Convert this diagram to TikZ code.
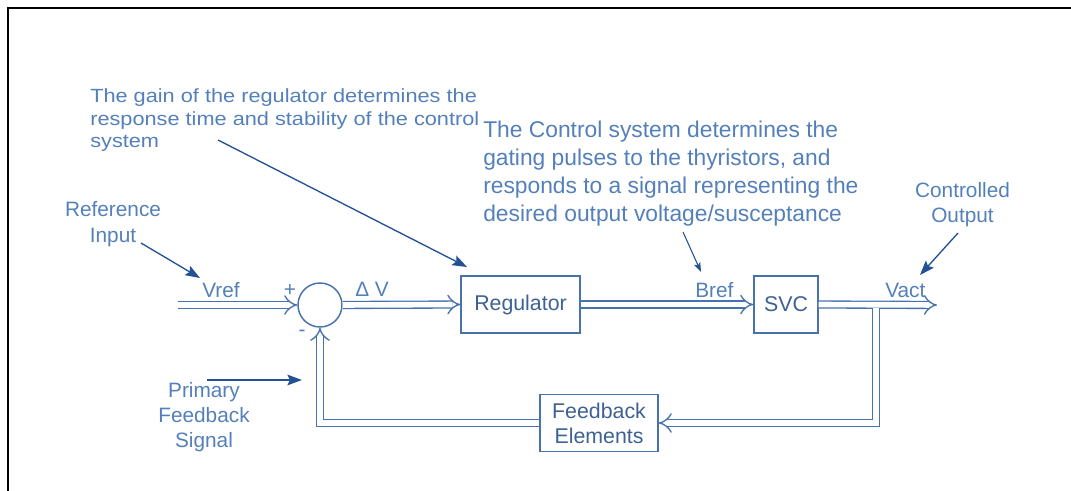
\documentclass[tikz,border=0pt]{standalone}
\usepackage{fontspec}
\setmainfont{Liberation Sans}
\newfontfamily\widefont[FakeStretch=1.14]{Liberation Sans}
\usepackage{tikz}
\usetikzlibrary{arrows.meta, positioning, calc}
\definecolor{txtblue}{RGB}{84,128,186}
\definecolor{boxblue}{RGB}{72,114,172}
\definecolor{arrblue}{RGB}{34,82,148}

\begin{document}
\begin{tikzpicture}[x=0.75pt, y=-0.75pt,
  block/.style={draw=boxblue, line width=1.1pt, text=boxblue!85!black, font=\fontsize{16}{18.75}\selectfont, minimum height=43pt, inner sep=0pt},
  signal/.style={draw=boxblue, line width=1pt, double=white, double distance=4.2pt, -{Implies[length=5.5pt, width=11.5pt]}},
  note/.style={text=txtblue, font=\fontsize{15.6}{18.75}\selectfont, inner sep=0pt},
  pointer/.style={draw=arrblue, line width=1pt, -{Stealth[length=11pt, width=8pt, inset=2pt]}}]
\useasboundingbox (0,0) rectangle (1071,491);
% Frame
\draw[line width=1.6pt] (8,491) -- (8,8) -- (1071,8);
% Blocks
\node[circle, draw=boxblue, line width=1.1pt, minimum size=33pt, inner sep=0pt] (sum) at (320,305) {};
\node[block, minimum width=89pt] (reg) at (520.5,304.5) {Regulator};
\node[block, minimum width=48pt] (svc) at (786,304.5) {SVC};
\node[block, minimum width=88.5pt, align=center] (fb) at (599,423) {Feedback\\Elements};
% Signal path
\coordinate (vin) at (178,305);
\coordinate (vout) at (937,305);
\coordinate (tap) at (876,308);
\draw[signal] (vin) -- (sum.west);
\draw[signal] (sum.east) -- (reg.west);
\draw[signal] (reg.east) -- (svc.west);
\draw[signal] (svc.east) -- (vout);
\draw[signal] (tap) |- (fb.east);
\draw[signal] (fb.west) -| (sum.south);
% Signal labels
\node[note, anchor=base west] (vreflbl) at (202,298) {Vref};
\node[note] (plus) at (290,291) {+};
\node[note] (minus) at (302,333) {-};
\node[note, anchor=base west] (dvlbl) at (355,297) {Δ V};
\node[note, anchor=base west] (breflbl) at (695,298) {Bref};
\node[note, anchor=base west] (vactlbl) at (885,298) {Vact};
% Notes (base = last line)
\node[note, anchor=base west, align=left, font=\widefont\fontsize{14.3}{17}\selectfont] (gainnote) at (90,148)
  {The gain of the regulator determines the\\response time and stability of the control\\system};
\node[note, anchor=base west, align=left, font=\fontsize{17.1}{21.2}\selectfont] (ctrlnote) at (483,222)
  {The Control system determines the\\gating pulses to the thyristors, and\\responds to a signal representing the\\desired output voltage/susceptance};
\node[note, anchor=base, align=center, font=\fontsize{15.6}{19.5}\selectfont] (refnote) at (113,243) {Reference\\Input};
\node[note, anchor=base, align=center] (outnote) at (962.5,223) {Controlled\\Output};
\node[note, anchor=base, align=center, font=\fontsize{15.6}{18.4}\selectfont] (fbnote) at (204,447) {Primary\\Feedback\\Signal};
% Pointers
\coordinate (gainfrom) at (218,140);
\coordinate (gainto) at (467,267);
\coordinate (reffrom) at (141,243);
\coordinate (refto) at (200,278);
\coordinate (breffrom) at (683,232);
\coordinate (brefto) at (701,272);
\coordinate (outfrom) at (958,233);
\coordinate (outto) at (920,275);
\coordinate (fbfrom) at (207,380);
\coordinate (fbto) at (302,380);
\draw[pointer] (gainfrom) -- (gainto);
\draw[pointer] (reffrom) -- (refto);
\draw[pointer, line width=0.8pt, -{Stealth[length=7pt, width=5pt, inset=1.5pt]}] (breffrom) -- (brefto);
\draw[pointer] (outfrom) -- (outto);
\draw[pointer] (fbfrom) -- (fbto);
\end{tikzpicture}
\end{document}
